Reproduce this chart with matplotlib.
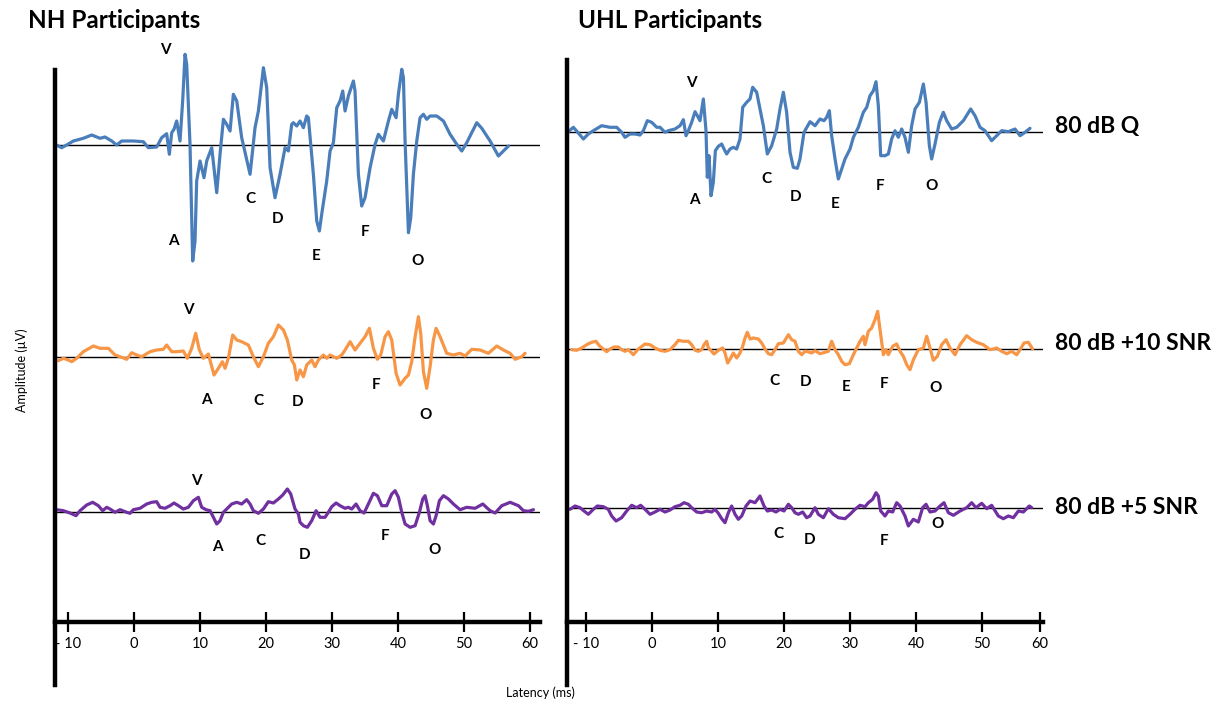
import matplotlib
matplotlib.use("Agg")
import matplotlib.pyplot as plt

plt.rcParams['font.family'] = ['Lato', 'DejaVu Sans']

# ---------------- data (latency in ms, amplitude in arbitrary µV units) ----------------
nh_q_lat = [-11.97, -10.96, -10.2, -9.19, -7.68, -6.41, -5.15, -4.39, -3.38, -2.63, -1.87, -0.1, 1.41, 2.17,
            3.43, 4.19, 4.95, 5.35, 5.71, 6.06, 6.46, 6.97, 7.37, 7.73, 7.98, 8.48, 8.89, 9.24, 9.49, 10.0,
            10.6, 11.01, 11.77, 12.53, 13.03, 13.54, 14.04, 14.55, 15.05, 15.56, 16.31, 17.58, 18.33, 18.84,
            19.6, 20.1, 20.61, 21.36, 22.12, 22.88, 23.38, 23.89, 24.14, 24.65, 25.15, 25.66, 26.16, 26.41,
            26.77, 27.17, 27.68, 28.08, 28.43, 29.19, 29.7, 30.2, 30.71, 31.21, 31.62, 31.97, 32.47, 33.23,
            33.48, 33.99, 34.49, 35.0, 35.76, 36.52, 37.02, 37.78, 38.54, 39.04, 39.7, 40.05, 40.56, 40.81,
            41.06, 41.57, 41.92, 42.32, 42.83, 43.33, 43.84, 44.34, 44.85, 45.86, 46.87, 47.88, 48.89, 49.65,
            50.4, 51.92, 52.68, 53.94, 55.2, 55.96, 56.72]
nh_q_amp = [0.07, -0.27, 0.0, 0.4, 0.67, 1.0, 0.67, 0.8, 0.4, 0.0, 0.4, 0.4, 0.33, -0.27,
            -0.2, 0.73, 1.13, -0.93, 1.23, 1.57, 2.4, 0.4, 4.4, 9.07, 8.07, 0.07, -11.6, -9.6, -3.6, -1.6,
            -3.27, -1.6, -0.27, -4.77, -0.93, 2.57, 2.07, 1.4, 5.07, 4.4, 0.73, -2.93, 1.73, 3.4,
            7.73, 5.73, -2.27, -5.27, -2.93, -0.27, -0.6, 2.07, 2.23, 1.9, 2.4, 1.73, 2.9, 2.73,
            0.07, -2.93, -7.6, -8.6, -6.93, -3.6, -0.6, 0.23, 3.73, 4.4, 5.4, 3.4, 4.9, 6.4,
            5.4, -2.93, -6.1, -5.27, -2.27, 0.07, 1.07, 0.4, 2.4, 3.57, 2.73, 5.07, 7.57, 6.73,
            0.4, -8.77, -7.27, -2.93, 0.4, 2.73, 3.07, 2.57, 2.9, 2.9, 2.4, 1.07, 0.07, -0.6,
            0.23, 2.23, 1.67, 0.4, -1.1, -0.6, -0.1]

nh_10_lat = [-11.46, -10.71, -9.95, -9.44, -8.69, -7.68, -6.16, -5.15, -3.89, -2.88, -2.12, -1.11, -0.35,
             0.4, 1.16, 2.42, 3.43, 4.44, 4.95, 5.71, 6.46, 7.47, 8.08, 8.74, 9.34, 9.9, 10.51, 11.26,
             12.12, 12.78, 13.38, 13.79, 14.29, 14.95, 15.56, 16.31, 17.32, 18.08, 18.84, 19.6, 20.35,
             21.11, 21.87, 22.63, 23.23, 23.89, 24.3, 24.65, 25.15, 25.66, 26.16, 26.92, 27.42, 27.93,
             28.69, 29.19, 29.7, 30.71, 31.46, 31.97, 32.73, 33.48, 34.24, 35.0, 35.66, 36.26, 36.87,
             37.37, 38.03, 38.54, 39.04, 39.7, 40.3, 41.06, 41.57, 42.07, 42.58, 43.08, 43.43, 43.84,
             44.34, 44.85, 45.35, 45.76, 46.36, 47.37, 48.38, 49.39, 50.15, 51.16, 52.42, 53.69, 54.95,
             55.96, 56.97, 57.73, 58.74, 59.24]
nh_10_amp = [-0.37, -0.13, -0.3, -0.47, -0.13, 0.53, 1.1, 0.87, 0.87, 0.2, 0.03, -0.23, 0.43,
             0.2, 0.03, 0.53, 0.7, 0.77, 1.2, 0.53, 0.53, 0.6, -0.13, 0.87, 2.37, 0.7, -0.13, 0.3,
             -1.8, -1.13, -0.47, -1.13, -0.13, 2.2, 1.7, 1.53, 1.2, 0.03, -0.97, 0.03, 1.37,
             2.03, 3.2, 2.7, 1.7, -0.3, -0.8, -2.3, -1.3, -1.97, -0.8, -0.3, -0.97, -0.3,
             0.2, -0.13, 0.2, -0.13, 0.2, 0.7, 1.53, 0.7, 1.37, 2.03, 2.87, 0.87, -0.23,
             0.2, 2.03, 2.53, 1.7, -1.63, -2.8, -2.13, -1.8, -0.47, 2.03, 4.03, 2.37, -1.47,
             -3.13, -0.97, 1.7, 2.87, 2.03, 0.37, 0.2, 0.37, 0.1, 0.77, 0.7, 0.37, 1.1,
             0.7, 0.37, -0.23, 0.03, 0.37]

nh_5_lat = [-11.72, -10.71, -9.7, -8.79, -8.18, -7.17, -6.26, -5.4, -4.75, -4.14, -3.64, -2.88, -2.12,
            -1.11, -0.61, -0.1, 0.91, 1.92, 2.68, 3.43, 3.94, 4.7, 5.45, 6.06, 6.72, 7.47, 8.23, 8.99,
            9.75, 10.25, 10.91, 11.52, 12.02, 12.53, 13.03, 13.54, 14.04, 14.8, 15.56, 16.31, 17.07,
            17.58, 18.08, 18.84, 19.6, 20.35, 21.11, 21.87, 22.53, 23.23, 23.74, 24.39, 24.9, 25.15,
            25.66, 26.26, 26.92, 27.58, 28.18, 28.94, 29.44, 29.95, 30.61, 31.21, 31.97, 32.47, 32.98,
            33.64, 34.24, 34.85, 35.5, 36.26, 36.87, 37.53, 38.28, 39.04, 39.55, 40.05, 40.56, 41.06,
            41.82, 42.58, 43.23, 43.74, 44.09, 44.44, 44.85, 45.35, 45.76, 46.26, 46.87, 47.63, 48.38,
            49.39, 50.4, 51.67, 52.83, 53.94, 54.7, 55.71, 56.97, 58.23, 58.99, 59.75, 60.51]
nh_5_amp = [0.23, 0.13, -0.1, -0.37, 0.13, 0.7, 0.97, 0.63, 0.13, 0.47, 0.3, -0.03, 0.23,
            -0.03, -0.13, 0.23, 0.37, 0.8, 0.97, 1.03, 0.47, 0.37, 0.63, 0.9, 0.63, 0.3, 0.47, 1.13,
            1.47, 0.47, 0.23, 0.13, -0.53, -1.2, -0.87, -0.03, 0.3, 0.8, 0.97, 0.8, 1.23,
            0.8, 0.13, -0.13, 0.3, 1.03, 0.9, 1.3, 1.7, 2.3, 1.8, 0.3, -0.2, -1.03,
            -1.37, -1.53, -0.87, 0.13, -0.53, -0.53, -0.03, 0.53, 0.9, 0.63, 0.37, 0.47, 0.3,
            0.8, 0.13, -0.1, 0.8, 1.87, 1.63, 0.63, 0.63, 1.8, 2.13, 1.47, -0.03, -1.2,
            -1.53, -1.37, -0.03, 1.3, 1.63, 0.63, -0.87, -1.2, -0.37, 1.13, 1.63, 1.3, 0.8,
            0.23, 0.47, 0.37, 0.8, 0.13, -0.1, 0.63, 0.97, 0.63, 0.13, 0.07, 0.23]

uhl_q_lat = [-12.68, -11.92, -11.16, -10.4, -9.65, -8.89, -7.63, -6.36, -5.35, -4.6, -4.09, -3.33, -2.58,
             -1.82, -1.31, -0.71, -0.05, 0.71, 1.21, 1.97, 2.47, 3.48, 4.24, 4.75, 5.15, 5.51, 6.01, 6.52,
             6.87, 7.27, 7.78, 8.18, 8.38, 8.64, 8.94, 9.29, 9.6, 10.05, 10.56, 10.91, 11.31, 11.82, 12.32,
             12.83, 13.33, 13.74, 14.34, 14.85, 15.25, 15.86, 16.36, 16.87, 17.47, 18.13, 18.89, 19.39,
             19.9, 20.4, 20.91, 21.41, 22.02, 22.42, 23.03, 23.94, 24.7, 25.45, 26.06, 26.46, 26.87,
             27.22, 27.73, 28.23, 28.74, 29.24, 30.0, 30.51, 31.26, 32.02, 32.53, 33.03, 33.54, 33.94,
             34.29, 34.65, 35.3, 35.81, 36.31, 36.82, 37.32, 37.83, 38.33, 38.84, 39.34, 39.85, 40.51,
             41.11, 41.52, 42.02, 42.37, 42.88, 43.54, 44.14, 44.65, 45.4, 46.16, 47.17, 48.28, 48.94,
             49.7, 50.45, 51.46, 52.22, 52.98, 53.99, 55.0, 55.76, 56.52, 57.27]
uhl_q_amp = [0.03, 0.47, -0.1, -0.7, -0.2, 0.13, 0.63, 0.47, 0.47, -0.03, -0.53, -0.2, -0.2,
             -0.3, 0.13, 1.13, 0.97, 0.47, 0.47, -0.03, 0.13, 0.3, 0.63, 1.23, -0.37, 0.13, 0.97, 2.03,
             1.63, 1.13, 3.3, 0.13, -4.53, -2.37, -6.37, -5.03, -1.87, -1.43, -1.2, -1.7, -2.2, -1.7, -1.53,
             -1.7, -0.7, 2.47, 2.97, 3.3, 4.47, 3.97, 2.3, 0.63, -2.2, -1.37, 0.3, 2.3,
             3.97, 1.97, -2.03, -3.53, -3.63, -2.7, -0.03, 1.03, 0.63, 1.3, 1.13, 1.47, 2.13,
             -0.37, -2.7, -4.7, -3.7, -2.7, -1.7, -0.53, 0.47, 1.97, 2.47, 3.63, 4.13, 5.03,
             2.63, -2.37, -2.37, -2.2, -0.7, 0.13, -0.53, 0.3, -0.53, -2.03, 0.63, 2.3, 2.97,
             4.8, 2.97, -1.37, -2.7, -1.2, 0.97, 1.97, 1.13, 0.3, 0.47, 1.13, 2.3, 1.63,
             0.47, 0.13, -0.87, -0.37, 0.13, 0.03, 0.3, -0.37, -0.03, 0.37]

uhl_10_lat = [-12.17, -11.41, -10.66, -9.9, -9.14, -8.48, -7.98, -7.37, -6.87, -6.36, -5.76, -5.1, -4.6,
              -4.09, -3.59, -3.08, -2.83, -2.07, -1.06, -0.3, 0.45, 1.21, 1.97, 2.73, 3.48, 3.99, 4.75,
              5.51, 6.01, 6.52, 7.02, 7.53, 7.88, 8.28, 8.54, 9.04, 9.39, 10.05, 10.71, 11.06, 11.46,
              11.92, 12.32, 12.83, 13.33, 13.74, 14.09, 14.44, 14.85, 15.35, 16.11, 16.62, 17.12, 17.63,
              18.13, 18.64, 19.14, 19.9, 20.66, 21.16, 21.67, 22.17, 22.68, 23.18, 23.43, 24.19, 24.7,
              25.45, 26.21, 26.72, 27.22, 27.73, 28.23, 28.74, 29.24, 29.9, 30.51, 31.01, 31.52, 32.02,
              32.27, 32.78, 33.28, 33.79, 34.19, 34.55, 35.05, 35.45, 35.81, 36.46, 37.07, 37.58, 38.08,
              38.59, 39.09, 39.6, 40.35, 41.11, 41.62, 42.12, 42.63, 43.23, 43.89, 44.55, 45.15, 45.91,
              46.67, 47.68, 48.43, 49.19, 50.2, 51.21, 52.22, 52.98, 53.74, 54.49, 55.25, 55.76, 56.36,
              57.02, 57.68]
uhl_10_amp = [-0.07, -0.13, 0.1, 0.43, 0.67, 0.77, 0.33, 0.0, -0.27, 0.0, 0.2, 0.2, -0.07,
              -0.23, -0.07, -0.4, -0.57, 0.0, 0.5, 0.43, 0.1, -0.13, -0.23, -0.07, 0.43, 0.87, 0.77,
              0.77, 0.43, -0.13, -0.23, -0.07, 0.43, 0.77, 0.1, -0.23, -0.5, -0.13, 0.1, -0.4, -1.4,
              -0.9, -0.4, -0.9, -0.4, 0.27, 1.1, 1.67, 1.0, 1.1, 1.0, 0.6, 0.0, -0.47,
              -0.57, -0.07, 0.53, 0.6, 1.43, 0.93, 0.77, -0.23, -0.57, -0.23, -0.23, -0.4, -0.17,
              -0.47, -0.33, -0.23, 0.77, -0.07, -0.57, -1.23, -1.57, -1.47, -0.57, 0.1, 0.77, 1.27,
              0.43, 1.77, 2.1, 2.93, 3.77, 1.93, -0.57, -0.07, -0.57, 0.27, 0.5, -0.23, -0.73,
              -1.57, -2.07, -1.07, -0.07, 0.1, 1.27, 0.1, -1.13, -0.73, 0.43, 0.93, 0.1, -0.57,
              0.43, 1.33, 0.93, 0.67, 0.43, -0.07, 0.1, -0.23, -0.47, -0.23, -0.57, -0.07, 0.6,
              0.67, 0.0]

uhl_5_lat = [-12.42, -11.67, -10.91, -10.3, -9.65, -8.89, -8.28, -7.37, -6.62, -6.11, -5.45, -4.6, -3.84,
             -3.08, -2.32, -1.72, -1.06, -0.3, 0.45, 1.21, 1.97, 2.73, 3.48, 4.24, 4.85, 5.51, 6.01, 6.77,
             7.53, 8.28, 9.04, 9.55, 10.05, 10.56, 11.06, 11.57, 12.07, 12.58, 13.08, 13.59, 14.24, 14.85,
             15.61, 16.36, 16.97, 17.47, 18.13, 18.79, 19.39, 20.0, 20.66, 21.16, 21.67, 22.17, 22.83,
             23.43, 23.94, 24.7, 25.2, 25.96, 26.72, 27.47, 28.23, 29.24, 30.0, 30.76, 31.52, 32.27,
             32.78, 33.43, 33.94, 34.29, 34.65, 35.3, 35.81, 36.46, 37.07, 37.58, 38.33, 38.84, 39.6,
             40.35, 41.01, 41.52, 42.12, 42.88, 43.64, 44.24, 44.9, 45.66, 46.67, 47.68, 48.43, 49.09,
             49.95, 50.71, 51.46, 52.47, 53.23, 53.99, 54.75, 55.51, 56.26, 57.17, 57.53]
uhl_5_amp = [-0.13, 0.2, 0.03, -0.3, -0.63, -0.13, 0.2, 0.13, -0.13, -0.8, -1.3, -0.97, -0.3,
             0.27, 0.03, 0.27, -0.13, -0.63, -0.4, -0.13, -0.4, -0.2, 0.13, 0.27, 0.53, 0.37, 0.03, -0.4,
             -0.47, -0.3, -0.4, -0.13, -0.53, -1.07, -1.47, -0.47, 0.2, -0.63, -1.13, -0.8, 0.2, 0.7,
             0.53, 1.2, 0.2, -0.3, -0.2, -0.4, -0.13, -0.3, 0.37, 0.03, -0.47, -0.63, -0.4,
             -0.97, -0.8, 0.03, -0.63, -0.97, -0.07, -0.63, -0.97, -1.07, -0.63, -0.13, 0.27, 0.13,
             0.53, 0.87, 1.53, 1.2, -0.3, -0.8, -0.3, -0.4, 0.53, 0.2, -0.8, -1.8, -1.13,
             -1.4, 0.03, 0.37, -0.4, -0.3, 0.2, 0.53, -0.47, -0.73, -0.3, 0.03, 0.53, 0.03,
             0.47, -0.07, 0.27, -0.8, -1.07, -0.8, -0.97, -0.3, -0.4, 0.2, 0.03]

# wave labels: (letter, latency ms, amplitude relative to trace baseline)
nh_q_peaks = [("V", 4.7, 9.5), ("A", 5.9, -9.6), ("C", 17.7, -5.4), ("D", 21.7, -7.4),
              ("E", 27.6, -11.1), ("F", 35.0, -8.7), ("O", 42.9, -11.6)]
nh_10_peaks = [("V", 8.2, 4.7), ("A", 10.9, -4.3), ("C", 18.8, -4.4), ("D", 24.7, -4.5),
               ("F", 36.7, -2.8), ("O", 44.2, -5.8)]
nh_5_peaks = [("V", 9.5, 3.1), ("A", 12.6, -3.5), ("C", 19.1, -2.9), ("D", 25.9, -4.3),
              ("F", 38.0, -2.4), ("O", 45.6, -3.8)]
uhl_q_peaks = [("V", 5.9, 4.9), ("A", 6.4, -6.8), ("C", 17.3, -4.7), ("D", 21.7, -6.5),
               ("E", 27.7, -7.2), ("F", 34.5, -5.4), ("O", 42.3, -5.4)]
uhl_10_peaks = [("C", 18.6, -3.2), ("D", 23.2, -3.3), ("E", 29.4, -3.8), ("F", 35.2, -3.5),
                ("O", 43.0, -3.9)]
uhl_5_peaks = [("C", 19.1, -2.6), ("D", 23.9, -3.2), ("F", 35.2, -3.3), ("O", 43.2, -1.6)]

tick_values = [-10, 0, 10, 20, 30, 40, 50, 60]
tick_labels = ["- 10", "0", "10", "20", "30", "40", "50", "60"]
conditions = ["80 dB Q", "80 dB +10 SNR", "80 dB +5 SNR"]
groups = ["NH Participants", "UHL Participants"]

# ---------------- styling / layout ----------------
BLUE = "#4a7ebb"
ORANGE = "#f79646"
PURPLE = "#7030a0"
W, H = 1227, 711

fig = plt.figure(figsize=(W / 100, H / 100), dpi=100)


def make_axes(px_left, px_right, px_top, px_bottom, xlim):
    ax = fig.add_axes([px_left / W, 1 - px_bottom / H, (px_right - px_left) / W, (px_bottom - px_top) / H])
    ax.set_xlim(*xlim)
    ax.set_ylim(0, (px_bottom - px_top) / 10)
    for s in ("top", "right"):
        ax.spines[s].set_visible(False)
    ax.spines["left"].set_linewidth(3.2)
    ax.spines["bottom"].set_linewidth(3.2)
    ax.spines["bottom"].set_position(("data", (px_bottom - 622) / 10))
    ax.set_yticks([])
    ax.tick_params(axis="x", direction="inout", length=15, width=1.6, labelsize=10.5, pad=3)
    ax.patch.set_alpha(0)
    return ax


axL = make_axes(55, 540, 70, 685, (-11.97, 61.5))
axR = make_axes(567, 1043, 60, 685, (-12.88, 59.24))

axL.set_xticks(tick_values, tick_labels)
# right-hand axis: final label sits at the end of the drawn axis
axR.set_xticks(tick_values[:-1] + [58.8], tick_labels)


def draw(ax, base, lat, amp, color, peaks):
    ax.axhline(base, color="black", lw=1.0, zorder=1)
    ax.plot(lat, [base + a for a in amp], color=color, lw=2.3, zorder=2, clip_on=False,
            solid_joinstyle="round", solid_capstyle="round")
    for letter, x, dy in peaks:
        ax.text(x, base + dy, letter, ha="center", va="center", fontsize=11, fontweight="bold")


# baselines (pixel rows converted to axes units)
draw(axL, (685 - 145) / 10, nh_q_lat, nh_q_amp, BLUE, nh_q_peaks)
draw(axL, (685 - 357) / 10, nh_10_lat, nh_10_amp, ORANGE, nh_10_peaks)
draw(axL, (685 - 512) / 10, nh_5_lat, nh_5_amp, PURPLE, nh_5_peaks)
draw(axR, (685 - 132) / 10, uhl_q_lat, uhl_q_amp, BLUE, uhl_q_peaks)
draw(axR, (685 - 349) / 10, uhl_10_lat, uhl_10_amp, ORANGE, uhl_10_peaks)
draw(axR, (685 - 508) / 10, uhl_5_lat, uhl_5_amp, PURPLE, uhl_5_peaks)

# titles and condition labels
fig.text(28 / W, 1 - 20 / H, groups[0], ha="left", va="center", fontsize=17.5, fontweight="bold")
fig.text(578 / W, 1 - 20 / H, groups[1], ha="left", va="center", fontsize=17.5, fontweight="bold")
for label, y in zip(conditions, [126, 344, 507]):
    fig.text(1055 / W, 1 - y / H, label, ha="left", va="center", fontsize=16.5, fontweight="bold")

fig.text(22 / W, 1 - 370 / H, "Amplitude (µV)", rotation=90, ha="center", va="center", fontsize=9)
fig.text(540 / W, 1 - 693 / H, "Latency (ms)", ha="center", va="center", fontsize=9)

fig.savefig("out.png", dpi=100, facecolor="white")
